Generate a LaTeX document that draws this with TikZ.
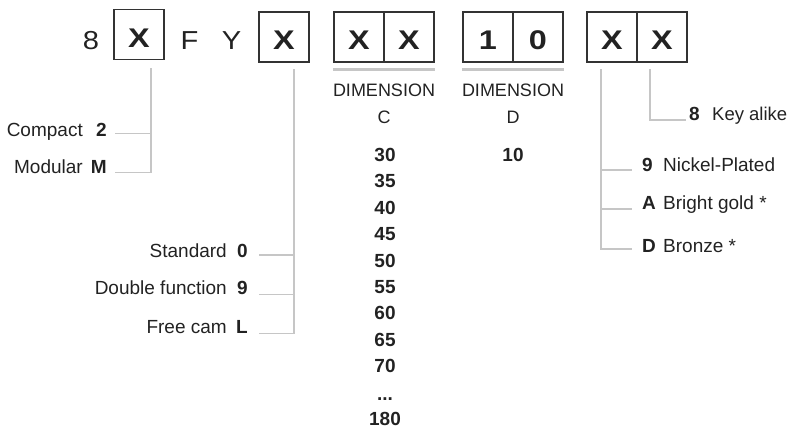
\documentclass[tikz,border=0pt]{standalone}
\usepackage{fontspec}
\setmainfont{Liberation Sans}
\newfontfamily\cellfont[FakeStretch=1.2]{Liberation Sans}
\newfontfamily\bigfont[FakeStretch=1.12]{Liberation Sans}
\usetikzlibrary{calc}
\definecolor{ink}{HTML}{222222}
\definecolor{boxc}{HTML}{333333}
\definecolor{linec}{HTML}{C6C6C6}
\tikzset{
  lbl/.style={font=\fontsize{19}{22}\selectfont, text=ink, inner sep=0pt},
  num/.style={font=\bfseries\fontsize{19}{22}\selectfont, text=ink, inner sep=0pt, anchor=base},
  dimf/.style={font=\fontsize{18}{21}\selectfont, text=ink, inner sep=0pt},
  big/.style={font=\bigfont\fontsize{26}{28}\selectfont, text=ink, inner sep=0pt, anchor=base},
  cell/.style={draw=boxc, line width=1.1pt, minimum width=50pt, minimum height=50pt,
    inner sep=0pt, text=ink, font=\cellfont\bfseries\fontsize{27}{29}\selectfont,
    text height=25.5pt, text depth=0pt},
  conn/.style={draw=linec, line width=1.3pt},
  sepline/.style={draw=linec, line width=2.2pt}
}
\begin{document}
\begin{tikzpicture}[x=1pt,y=-1pt]
\useasboundingbox (0,0) rectangle (790,430);
% top code row
\node[big] (p8) at (91,49.5) {8};
\node[cell] (b1) at (139,34.5) {X};
\node[big] (pF) at (189.5,49.5) {F};
\node[big] (pY) at (231.5,49.5) {Y};
\node[cell] (b2) at (284,37) {X};
\node[cell] (c1) at (359,37) {X};
\node[cell] (c2) at (409,37) {X};
\node[cell] (d1) at (488,37) {1};
\node[cell] (d2) at (538,37) {0};
\node[cell] (e1) at (612,37) {X};
\node[cell] (e2) at (662,37) {X};
% separators
\draw[sepline] ([yshift=-7pt]c1.south west) -- ([yshift=-7pt]c2.south east);
\draw[sepline] ([yshift=-7pt]d1.south west) -- ([yshift=-7pt]d2.south east);
% dimension columns
\node[dimf] (dC) at (384,90) {DIMENSION};
\node[dimf] (lC) at (384,117) {C};
\node[dimf] (dD) at (513,90) {DIMENSION};
\node[dimf] (lD) at (513,117) {D};
\node[num] (n30) at (385,161.6) {30};
\node[num] (n35) at (385,188.0) {35};
\node[num] (n40) at (385,214.4) {40};
\node[num] (n45) at (385,240.8) {45};
\node[num] (n50) at (385,267.2) {50};
\node[num] (n55) at (385,293.6) {55};
\node[num] (n60) at (385,320.0) {60};
\node[num] (n65) at (385,346.4) {65};
\node[num] (n70) at (385,372.8) {70};
\node[num] (ndots) at (385,400.5) {...};
\node[num] (n180) at (385,425.6) {180};
\node[num] (n10) at (513,161.6) {10};
% left group 1
\node[lbl, anchor=base east] (compact) at (107,136.7) {Compact\hspace{8pt}\makebox[16pt][r]{\textbf{2}}};
\node[lbl, anchor=base east] (modular) at (107,173.3) {Modular\hspace{8pt}\makebox[16pt][r]{\textbf{M}}};
\coordinate (j1) at ([xshift=12pt,yshift=-8pt]b1.south);
\draw[conn] (j1) |- ([xshift=8pt,yshift=3.4pt]compact.base east);
\draw[conn] (j1) |- ([xshift=8pt,yshift=0.6pt]modular.base east);
% left group 2
\node[lbl, anchor=base east] (standard) at (248,257.3) {Standard\hspace{8pt}\makebox[13pt][r]{\textbf{0}}};
\node[lbl, anchor=base east] (double) at (248,294.3) {Double function\hspace{8pt}\makebox[13pt][r]{\textbf{9}}};
\node[lbl, anchor=base east] (freecam) at (248,333.3) {Free cam\hspace{8pt}\makebox[13pt][r]{\textbf{L}}};
\coordinate (j2) at ([xshift=10pt,yshift=-6.5pt]b2.south);
\draw[conn] (j2) |- ([xshift=11pt,yshift=2.3pt]standard.base east);
\draw[conn] (j2) |- ([xshift=11pt]double.base east);
\draw[conn] (j2) |- ([xshift=11pt]freecam.base east);
% right group: finish
\node[lbl, anchor=base west] (nickel) at (642,172) {\makebox[21pt][l]{\textbf{9}}Nickel-Plated};
\node[lbl, anchor=base west] (gold) at (642,210) {\makebox[21pt][l]{\textbf{A}}Bright gold *};
\node[lbl, anchor=base west] (bronze) at (642,252.5) {\makebox[21pt][l]{\textbf{D}}Bronze *};
\coordinate (j3) at ([xshift=-11pt,yshift=-6.5pt]e1.south);
\draw[conn] (j3) |- ([xshift=-10pt,yshift=2pt]nickel.base west);
\draw[conn] (j3) |- ([xshift=-10pt,yshift=1pt]gold.base west);
\draw[conn] (j3) |- ([xshift=-10pt,yshift=3.5pt]bronze.base west);
% right group: key
\node[lbl, anchor=base west] (key) at (689,121) {\makebox[23pt][l]{\textbf{8}}{\fontsize{18.5}{22}\selectfont Key alike}};
\coordinate (j4) at ([xshift=-12pt,yshift=-6.5pt]e2.south);
\draw[conn] (j4) |- ([xshift=-3pt,yshift=1pt]key.base west);
\end{tikzpicture}
\end{document}
